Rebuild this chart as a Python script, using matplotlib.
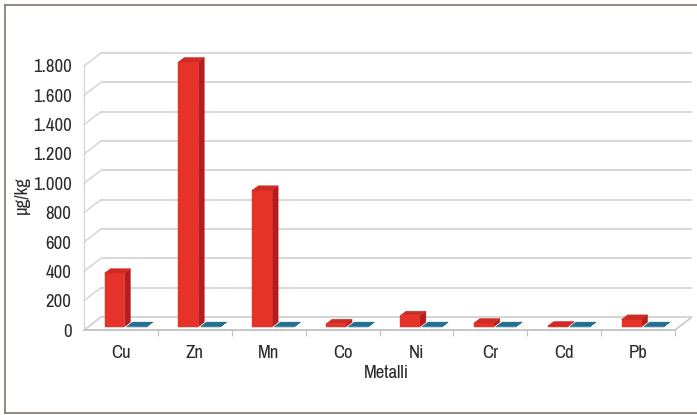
import matplotlib
matplotlib.use("Agg")
import matplotlib.pyplot as plt
from matplotlib import font_manager as fm
from matplotlib.patches import Polygon
from matplotlib.lines import Line2D
from matplotlib.ticker import FuncFormatter, FixedLocator

# --- data -------------------------------------------------------------
metals = ["Cu", "Zn", "Mn", "Co", "Ni", "Cr", "Cd", "Pb"]
series_a = [365, 1805, 930, 20, 75, 25, 5, 50]      # red series
series_b = [1, 1, 1, 1, 1, 1, 1, 1]                 # blue series
y_ticks = [0, 200, 400, 600, 800, 1000, 1200, 1400, 1600, 1800]

# --- font: prefer a narrow sans if one is installed ---------------------
names = sorted({f.name for f in fm.fontManager.ttflist})
narrow = [n for n in names if ("Narrow" in n or "Condensed" in n)]
FONT = narrow[:1] + ["Roboto", "DejaVu Sans"]

TXT = "#2b2b2b"
GRID = "#d6d6d6"
RED = {"front": "#e5332a", "side": "#b81b1e", "top": "#d02a25"}
BLUE = {"front": "#185470", "side": "#134559", "top": "#22708f"}

fig = plt.figure(figsize=(6.97, 4.15), dpi=100)
W, H = 697, 415
# axes box = front plane of the plot area (value 0..1800)
x_left, x_right, y_zero, y_top = 84, 675, 330, 66
ax = fig.add_axes([x_left / W, (H - y_zero) / H,
                   (x_right - x_left) / W, (y_zero - y_top) / H])
ax.set_xlim(-0.5, len(metals) - 0.5)
ax.set_ylim(0, 1800)
for s in ax.spines.values():
    s.set_visible(False)
ax.patch.set_alpha(0)

# oblique depth offset in data units
DX = 17 / (x_right - x_left) * len(metals)
DY = 13 / (y_zero - y_top) * 1800


def proj(x, v, d):
    return (x + d * DX, v + d * DY)


n = len(metals)
x0_all, x1_all = -0.5, n - 0.5

# floor
floor = Polygon([proj(x0_all, 0, 0), proj(x1_all, 0, 0),
                 proj(x1_all, 0, 1), proj(x0_all, 0, 1)],
                closed=True, facecolor="white", edgecolor="#c4c4c4",
                linewidth=1.1, zorder=1, clip_on=False)
ax.add_patch(floor)

# back wall and side wall gridlines
for v in y_ticks:
    bx, by = proj(x0_all, v, 1)
    ex, ey = proj(x1_all, v, 1)
    ax.plot([bx, ex], [by, ey], color=GRID, lw=1.3, zorder=2,
            clip_on=False, solid_capstyle="butt")
    ax.plot([x0_all, bx], [v, by], color=GRID, lw=1.1, zorder=2,
            clip_on=False)
ax.plot([x0_all, x0_all], [0, 1800], color=GRID, lw=0.9, zorder=2,
        clip_on=False)
ax.plot([x0_all, x1_all], [0, 0], color="#c4c4c4", lw=1.1, zorder=3,
        clip_on=False)

# 3-D columns
D0, D1 = 0.25, 0.60
offsets = [(-0.28, -0.01), (0.02, 0.29)]


def draw_column(xc, v, off, col, z):
    xa, xb = xc + off[0], xc + off[1]
    front = [proj(xa, 0, D0), proj(xb, 0, D0), proj(xb, v, D0), proj(xa, v, D0)]
    side = [proj(xb, 0, D0), proj(xb, 0, D1), proj(xb, v, D1), proj(xb, v, D0)]
    top = [proj(xa, v, D0), proj(xb, v, D0), proj(xb, v, D1), proj(xa, v, D1)]
    for pts, key in ((side, "side"), (front, "front"), (top, "top")):
        ax.add_patch(Polygon(pts, closed=True, facecolor=col[key],
                             edgecolor=col[key], linewidth=0.3,
                             zorder=z, clip_on=False))


for i in range(n):
    draw_column(i, series_a[i], offsets[0], RED, 4 + 2 * i)
    draw_column(i, series_b[i], offsets[1], BLUE, 5 + 2 * i)

# axes ticks and labels
FS = 13.5
ax.set_yticks(y_ticks)
ax.yaxis.set_major_formatter(
    FuncFormatter(lambda v, p: f"{int(v):,}".replace(",", ".")))
ax.tick_params(axis="y", length=0, pad=9, labelsize=FS, labelcolor=TXT)
ax.set_xticks(range(n))
ax.set_xticklabels(metals)
ax.xaxis.set_minor_locator(FixedLocator([i + 0.5 for i in range(n)]))
ax.tick_params(axis="x", which="major", length=0, pad=10.5,
               labelsize=FS, labelcolor=TXT)
ax.tick_params(axis="x", which="minor", length=4, width=0.9,
               color="#c4c4c4")
for lab in ax.get_xticklabels() + ax.get_yticklabels():
    lab.set_family(FONT)

ax.set_ylabel("µg/kg", fontsize=FS, color=TXT, family=FONT)
ax.yaxis.set_label_coords((30 - x_left) / (x_right - x_left), 0.51)
ax.set_xlabel("Metalli", fontsize=FS, color=TXT, family=FONT)
ax.xaxis.set_label_coords((386 - x_left) / (x_right - x_left),
                          (y_zero - 365) / (y_zero - y_top))

# outer frame (left, top, bottom)
frame_col = "#8b7e79"
fl, ft, fb = 5 / W, 1 - 5.5 / H, 1 - 413 / H
fig.add_artist(Line2D([fl, fl], [fb, ft], transform=fig.transFigure,
                      color=frame_col, lw=1.3))
fig.add_artist(Line2D([fl, 1], [ft, ft], transform=fig.transFigure,
                      color=frame_col, lw=1.3))
fig.add_artist(Line2D([fl, 1], [fb, fb], transform=fig.transFigure,
                      color=frame_col, lw=1.3))

fig.savefig("out.png", dpi=100, facecolor="white")
